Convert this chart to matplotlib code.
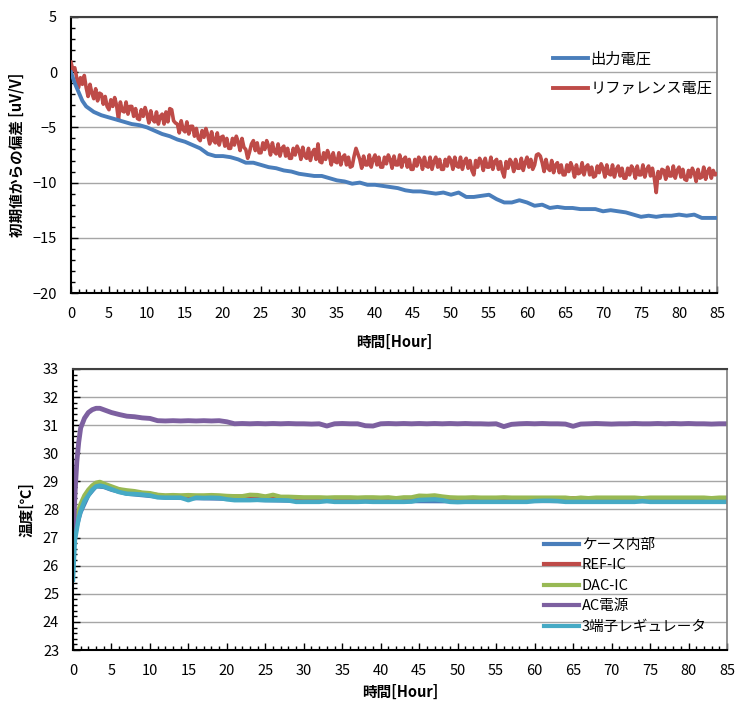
import numpy as np
import matplotlib
matplotlib.use("Agg")
import matplotlib.pyplot as plt
from matplotlib.ticker import MultipleLocator

plt.rcParams['font.family'] = ['Noto Sans CJK JP', 'DejaVu Sans']

# --- drift of output / reference voltage [uV/V] ---
t_out = [0, 0.5, 1, 1.5, 2] + list(range(3, 86))
out_v = [0.0, -1.0, -1.8, -2.6, -3.1,
         -3.6, -3.9, -4.1, -4.3, -4.5, -4.7, -4.8, -5.0, -5.3, -5.6,
         -5.8, -6.1, -6.3, -6.6, -6.9, -7.4, -7.6, -7.6, -7.7, -7.9,
         -8.2, -8.2, -8.4, -8.6, -8.7, -8.9, -9.0, -9.2, -9.3, -9.4,
         -9.4, -9.6, -9.8, -9.9, -10.1, -10.0, -10.2, -10.2, -10.3, -10.4,
         -10.5, -10.7, -10.8, -10.8, -10.9, -11.0, -10.9, -11.1, -10.9, -11.3,
         -11.3, -11.2, -11.1, -11.5, -11.8, -11.8, -11.6, -11.8, -12.1, -12.0,
         -12.3, -12.2, -12.3, -12.3, -12.4, -12.4, -12.4, -12.6, -12.5, -12.6,
         -12.7, -12.9, -13.1, -13.0, -13.1, -13.0, -13.0, -12.9, -13.0, -12.9,
         -13.2, -13.2, -13.2]

# reference voltage, one reading every quarter hour (one row = one hour)
ref_v = [
    0.9, 0.2, 0.4, -0.5,
    -1.4, -0.5, -1.1, -0.3,
    -1.4, -2.2, -1.1, -1.9,
    -2.4, -1.5, -2.6, -1.9,
    -2.0, -2.9, -2.2, -3.1,
    -3.4, -2.5, -3.1, -2.3,
    -3.0, -4.3, -2.7, -3.5,
    -3.6, -2.7, -3.8, -3.1,
    -3.1, -4.0, -3.3, -4.2,
    -4.3, -3.4, -4.0, -3.2,
    -3.8, -4.6, -3.5, -4.3,
    -4.5, -3.6, -4.7, -4.0,
    -3.8, -4.7, -3.6, -4.5,
    -3.3, -3.4, -4.4, -4.6,
    -4.7, -5.5, -4.4, -5.2,
    -5.4, -4.5, -5.6, -4.9,
    -4.9, -5.8, -5.1, -6.0,
    -6.2, -5.3, -5.9, -5.1,
    -5.7, -6.5, -5.4, -6.2,
    -6.4, -5.5, -6.6, -5.9,
    -5.8, -6.7, -6.0, -6.9,
    -6.9, -6.0, -6.6, -5.8,
    -6.3, -7.1, -6.0, -6.8,
    -7.0, -7.8, -7.2, -6.5,
    -6.2, -7.1, -6.4, -7.3,
    -7.3, -6.4, -7.0, -6.2,
    -6.7, -7.5, -6.4, -7.2,
    -7.4, -6.5, -7.6, -6.9,
    -6.7, -7.6, -6.9, -7.8,
    -7.8, -6.9, -7.5, -6.7,
    -7.1, -7.9, -6.8, -7.6,
    -7.8, -6.9, -8.0, -7.3,
    -7.0, -7.9, -6.5, -8.1,
    -8.2, -7.3, -7.9, -7.1,
    -7.6, -8.4, -7.3, -8.1,
    -8.2, -7.3, -8.4, -7.7,
    -7.5, -8.4, -7.7, -8.6,
    -8.5, -7.6, -6.9, -7.4,
    -7.9, -8.7, -7.6, -8.4,
    -8.4, -7.5, -8.6, -7.9,
    -7.5, -8.4, -7.7, -8.6,
    -8.6, -7.7, -8.3, -7.5,
    -7.9, -8.7, -7.6, -8.4,
    -8.4, -7.5, -8.6, -7.9,
    -7.7, -8.6, -7.9, -8.8,
    -8.8, -7.9, -8.5, -7.7,
    -8.0, -8.8, -7.7, -8.5,
    -8.6, -7.7, -8.8, -8.1,
    -7.7, -8.6, -7.9, -8.8,
    -8.8, -7.9, -8.5, -7.7,
    -8.0, -8.8, -7.7, -8.5,
    -8.6, -7.7, -8.8, -8.1,
    -7.8, -8.7, -8.0, -8.9,
    -9.3, -8.0, -8.6, -7.8,
    -8.1, -8.9, -7.8, -8.6,
    -8.6, -7.7, -8.8, -8.1,
    -7.9, -8.8, -8.1, -9.0,
    -9.5, -8.1, -8.7, -7.9,
    -8.2, -9.0, -7.9, -8.7,
    -8.7, -7.8, -8.9, -8.2,
    -7.7, -8.6, -7.9, -8.8,
    -8.4, -7.5, -7.4, -7.6,
    -8.2, -9.0, -7.9, -8.7,
    -8.9, -8.0, -9.1, -8.4,
    -8.2, -9.1, -8.4, -9.3,
    -9.3, -8.4, -9.0, -8.2,
    -8.7, -9.5, -8.4, -9.2,
    -9.1, -8.2, -9.3, -8.6,
    -8.4, -9.3, -8.6, -9.5,
    -9.4, -8.5, -9.1, -8.3,
    -8.7, -9.5, -8.4, -9.2,
    -9.3, -8.4, -9.5, -8.8,
    -8.5, -9.4, -8.7, -9.6,
    -9.6, -8.7, -9.3, -8.5,
    -8.8, -9.6, -8.5, -9.3,
    -9.3, -8.4, -9.5, -8.8,
    -8.5, -9.4, -8.7, -9.6,
    -10.9, -9.0, -9.6, -8.8,
    -8.9, -9.7, -8.6, -9.4,
    -9.4, -8.5, -9.6, -8.9,
    -8.6, -9.5, -8.8, -9.7,
    -9.8, -8.9, -9.5, -8.7,
    -9.1, -9.9, -8.8, -9.6,
    -9.5, -8.6, -9.7, -9.0,
    -8.7, -9.6, -8.9, -9.3,
    -9.2]
t_ref = np.arange(len(ref_v)) * 0.25

# --- temperatures [degC] ---
t_temp = [0, 0.25, 0.5, 0.75, 1, 1.5, 2, 2.5, 3, 3.5] + list(range(4, 86))

ac_psu = [26.8, 28.5, 29.7, 30.4, 30.9, 31.25, 31.45, 31.55, 31.6, 31.6,
          31.55, 31.45, 31.38, 31.32, 31.30, 31.26, 31.24, 31.16, 31.15, 31.16,
          31.15, 31.16, 31.15, 31.16, 31.15, 31.16, 31.12, 31.05, 31.06, 31.05,
          31.06, 31.05, 31.06, 31.05, 31.06, 31.05, 31.05, 31.04, 31.05, 30.97,
          31.05, 31.06, 31.05, 31.05, 30.98, 30.97, 31.05, 31.06, 31.05, 31.06,
          31.05, 31.06, 31.05, 31.06, 31.05, 31.06, 31.05, 31.06, 31.05, 31.05,
          31.04, 31.05, 30.95, 31.03, 31.05, 31.06, 31.05, 31.06, 31.05, 31.05,
          31.04, 30.96, 31.04, 31.05, 31.06, 31.05, 31.04, 31.05, 31.05, 31.06,
          31.05, 31.05, 31.06, 31.05, 31.06, 31.05, 31.06, 31.05, 31.05, 31.04,
          31.05, 31.05]

dac_ic = [26.8, 27.3, 27.7, 28.0, 28.2, 28.5, 28.7, 28.85, 28.95, 28.98,
          28.92, 28.82, 28.72, 28.68, 28.65, 28.60, 28.58, 28.52, 28.50, 28.51,
          28.50, 28.51, 28.50, 28.50, 28.51, 28.50, 28.48, 28.47, 28.47, 28.52,
          28.51, 28.46, 28.52, 28.45, 28.45, 28.44, 28.43, 28.43, 28.43, 28.42,
          28.43, 28.43, 28.43, 28.42, 28.43, 28.43, 28.42, 28.43, 28.40, 28.43,
          28.43, 28.49, 28.48, 28.50, 28.46, 28.43, 28.42, 28.42, 28.43, 28.42,
          28.42, 28.42, 28.43, 28.42, 28.42, 28.42, 28.42, 28.42, 28.42, 28.42,
          28.42, 28.39, 28.42, 28.40, 28.42, 28.42, 28.42, 28.42, 28.42, 28.42,
          28.40, 28.42, 28.42, 28.42, 28.42, 28.42, 28.42, 28.42, 28.42, 28.40,
          28.42, 28.42]

regulator = [25.5, 26.9, 27.3, 27.7, 27.95, 28.3, 28.5, 28.7, 28.82, 28.85,
             28.82, 28.72, 28.62, 28.56, 28.55, 28.53, 28.50, 28.43, 28.42, 28.42,
             28.42, 28.33, 28.42, 28.41, 28.42, 28.41, 28.36, 28.33, 28.33, 28.33,
             28.34, 28.33, 28.33, 28.33, 28.32, 28.27, 28.27, 28.27, 28.27, 28.30,
             28.27, 28.27, 28.27, 28.27, 28.28, 28.27, 28.27, 28.27, 28.27, 28.27,
             28.28, 28.34, 28.35, 28.36, 28.33, 28.27, 28.26, 28.27, 28.27, 28.27,
             28.27, 28.27, 28.27, 28.27, 28.27, 28.27, 28.30, 28.31, 28.31, 28.30,
             28.27, 28.27, 28.27, 28.27, 28.27, 28.27, 28.27, 28.27, 28.27, 28.27,
             28.30, 28.27, 28.27, 28.27, 28.27, 28.27, 28.27, 28.27, 28.27, 28.27,
             28.27, 28.27]

# case and REF-IC sit underneath the other traces
t_hidden = [0, 0.5, 1, 2, 3, 4, 5, 7, 10, 12, 20, 25, 30, 40, 50, 60, 70, 85]
case_in = [26.6, 27.4, 27.9, 28.5, 28.82, 28.8, 28.7, 28.56, 28.48, 28.42,
           28.38, 28.33, 28.30, 28.30, 28.29, 28.30, 28.29, 28.30]
ref_ic = [26.7, 27.6, 28.1, 28.6, 28.9, 28.88, 28.78, 28.64, 28.55, 28.48,
          28.47, 28.45, 28.40, 28.40, 28.40, 28.40, 28.40, 28.40]

BLUE = '#4A7EBB'
RED = '#BE4B48'
GREEN = '#98B954'
PURPLE = '#7D60A0'
CYAN = '#46AAC5'
GRID = '#A6A6A6'


def style_axes(ax, ymin, ymax, ymajor, yminor):
    ax.set_xlim(0, 85)
    ax.set_ylim(ymin, ymax)
    ax.xaxis.set_major_locator(MultipleLocator(5))
    ax.xaxis.set_minor_locator(MultipleLocator(1))
    ax.yaxis.set_major_locator(MultipleLocator(ymajor))
    ax.yaxis.set_minor_locator(MultipleLocator(yminor))
    ax.tick_params(which='major', direction='in', length=5, width=1,
                   labelsize=10.5, top=False, right=False, pad=10)
    ax.tick_params(which='minor', direction='in', length=3, width=1,
                   top=False, right=False)
    ax.grid(axis='y', which='major', color=GRID, linewidth=1)
    ax.set_axisbelow(True)
    for side in ('left', 'bottom'):
        ax.spines[side].set_color('black')
        ax.spines[side].set_linewidth(1.5)
    ax.spines['top'].set_color('#404040')
    ax.spines['top'].set_linewidth(1.5)
    ax.spines['right'].set_color('#808080')
    ax.spines['right'].set_linewidth(1.2)


fig = plt.figure(figsize=(7.37, 7.04), dpi=100)

# upper panel: deviation from initial value
ax1 = fig.add_axes([0.0963, 0.5838, 0.8766, 0.3921])
ax1.plot(t_ref, ref_v, color=RED, linewidth=2.6, label='リファレンス電圧', zorder=3)
ax1.plot(t_out, out_v, color=BLUE, linewidth=2.8, label='出力電圧', zorder=4)
style_axes(ax1, -20, 5, 5, 1)
ax1.set_xlabel('時間[Hour]', fontsize=10.5, fontweight='bold', labelpad=9)
ax1.set_ylabel('初期値からの偏差 [uV/V]', fontsize=10.5, fontweight='bold', labelpad=6)
h, l = ax1.get_legend_handles_labels()
leg1 = ax1.legend(h[::-1], l[::-1], loc='upper left', bbox_to_anchor=(0.737, 0.9),
                  frameon=False, fontsize=11, handlelength=2.3, handletextpad=0.15,
                  labelspacing=0.8, borderaxespad=0)
for line in leg1.get_lines():
    line.set_linewidth(2.8)

# lower panel: temperatures
ax2 = fig.add_axes([0.0990, 0.0767, 0.8874, 0.3992])
ax2.plot(t_hidden, case_in, color=BLUE, linewidth=3, label='ケース内部')
ax2.plot(t_hidden, ref_ic, color=RED, linewidth=3, label='REF-IC')
ax2.plot(t_temp, dac_ic, color=GREEN, linewidth=3.2, label='DAC-IC')
ax2.plot(t_temp, ac_psu, color=PURPLE, linewidth=3.5, label='AC電源')
ax2.plot(t_temp, regulator, color=CYAN, linewidth=3.2, label='3端子レギュレータ')
style_axes(ax2, 23, 33, 1, 0.2)
ax2.set_xlabel('時間[Hour]', fontsize=10.5, fontweight='bold', labelpad=4)
ax2.set_ylabel('温度[℃]', fontsize=10.5, fontweight='bold', labelpad=6)
leg2 = ax2.legend(loc='upper left', bbox_to_anchor=(0.712, 0.42),
                  frameon=False, fontsize=10.5, handlelength=2.4, handletextpad=0.15,
                  labelspacing=0.45, borderaxespad=0)
for line in leg2.get_lines():
    line.set_linewidth(3)

fig.savefig('out.png', dpi=100)
